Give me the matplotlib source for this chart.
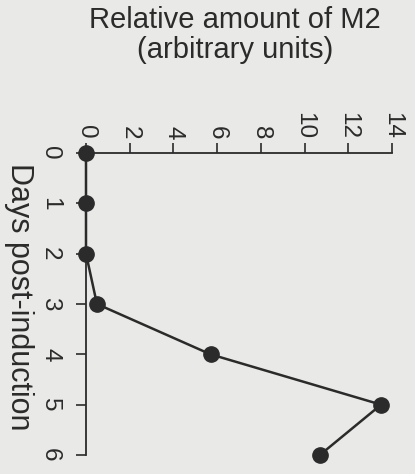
import matplotlib
matplotlib.use("Agg")
import matplotlib.pyplot as plt

days = [0, 1, 2, 3, 4, 5, 6]
m2_amount = [0.0, 0.0, 0.0, 0.5, 5.7, 13.5, 10.7]
value_ticks = [0, 2, 4, 6, 8, 10, 12, 14]
day_ticks = [0, 1, 2, 3, 4, 5, 6]

plt.rcParams['font.family'] = ['Liberation Sans', 'DejaVu Sans']
bg = '#e9e9e7'
ink = '#2b2b2b'

fig = plt.figure(figsize=(4.15, 4.74), dpi=100, facecolor=bg)
ax = fig.add_axes([86/415, 1-455/474, (392-86)/415, (455-153)/474])
ax.set_facecolor(bg)

ax.plot(m2_amount, days, color=ink, lw=1.8, marker='o', ms=11,
        mfc=ink, mec=ink, clip_on=False, zorder=3)

ax.set_xlim(0, 14)
ax.set_ylim(6, 0)
ax.xaxis.tick_top()
ax.set_xticks(value_ticks)
ax.set_yticks(day_ticks)
ax.set_xticklabels([str(v) for v in value_ticks], rotation=-90)
ax.set_yticklabels([str(d) for d in day_ticks], rotation=-90, va='center')
for s in ['bottom', 'right']:
    ax.spines[s].set_visible(False)
for s in ['top', 'left']:
    ax.spines[s].set_color(ink)
    ax.spines[s].set_linewidth(1.3)
ax.tick_params(axis='both', direction='out', length=7, width=1.2,
               color=ink, labelcolor=ink, labelsize=17.5)
ax.tick_params(axis='x', pad=3)
ax.tick_params(axis='y', pad=11)

fig.text(235/415, 1-35/474, "Relative amount of M2\n(arbitrary units)",
         ha='center', va='center', fontsize=21, color=ink, linespacing=1.05)
fig.text(19/415, 1-297/474, "Days post-induction", rotation=-90,
         ha='center', va='center', fontsize=22, color=ink)

fig.savefig("out.png", dpi=100, facecolor=bg)
